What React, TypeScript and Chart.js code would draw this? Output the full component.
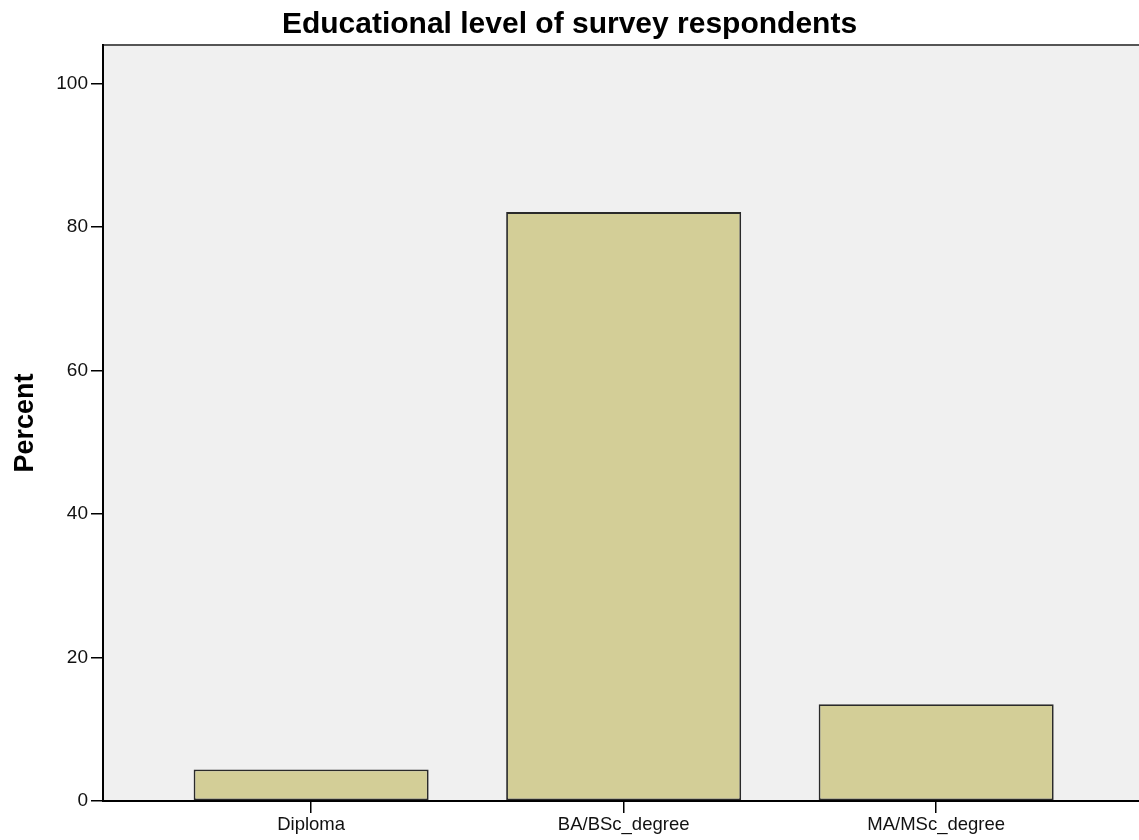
import React, { useEffect, useRef } from "react";
import { Chart, registerables } from "chart.js";

Chart.register(...registerables);

const categories = ["Diploma", "BA/BSc_degree", "MA/MSc_degree"];
const percents = [4.4, 82.1, 13.5];
const yTicks = [0, 20, 40, 60, 80, 100];

const FONT = "'Liberation Sans', Arial, sans-serif";

const panelPlugin = {
  id: "panel",
  beforeDraw(chart: any) {
    const { ctx, chartArea } = chart;
    ctx.save();
    ctx.fillStyle = "#f0f0f0";
    ctx.fillRect(chartArea.left, chartArea.top, chartArea.right - chartArea.left, chartArea.bottom - chartArea.top);
    ctx.strokeStyle = "#555555";
    ctx.lineWidth = 2;
    ctx.beginPath();
    ctx.moveTo(chartArea.left, chartArea.top);
    ctx.lineTo(chartArea.right, chartArea.top);
    ctx.stroke();
    ctx.restore();
  },
};

export default function App() {
  const ref = useRef<HTMLCanvasElement>(null);
  useEffect(() => {
    if (!ref.current) return;
    const chart = new Chart(ref.current, {
      type: "bar",
      data: {
        datasets: [
          {
            label: "Percent",
            data: categories.map((_, i) => ({ x: i, y: percents[i] })),
            backgroundColor: "#d3ce97",
            borderColor: "#2a2a2a",
            borderWidth: 1.8,
            borderSkipped: false,
            barPercentage: 0.752,
            categoryPercentage: 1,
          },
        ],
      },
      options: {
        animation: false,
        responsive: false,
        devicePixelRatio: 1,
        layout: { padding: { left: 0, right: 0, top: 0, bottom: 0 } },
        plugins: {
          legend: { display: false },
          tooltip: { enabled: false },
          title: {
            display: true,
            text: "Educational level of survey respondents",
            color: "#000",
            font: { family: FONT, size: 30, weight: "bold", lineHeight: 1.0 },
            padding: { top: 10, bottom: 5 },
          },
        },
        scales: {
          x: {
            type: "linear",
            offset: false,
            min: -0.666,
            max: 2.649,
            afterBuildTicks: (scale: any) => {
              scale.ticks = categories.map((_, i) => ({ value: i }));
            },
            afterFit: (scale: any) => {
              scale.height = 39;
            },
            ticks: {
              autoSkip: false,
              maxRotation: 0,
              color: "#111",
              padding: 1,
              font: { family: FONT, size: 18.5 },
              callback: (v: any) => categories[v as number] ?? "",
            },
            grid: {
              offset: false,
              drawOnChartArea: false,
              drawTicks: true,
              tickLength: 12,
              color: "#000",
              lineWidth: 1.5,
            },
            border: { display: true, color: "#000", width: 2 },
          },
          y: {
            type: "linear",
            min: 0,
            max: 105.4,
            afterBuildTicks: (scale: any) => {
              scale.ticks = yTicks.map((v) => ({ value: v }));
            },
            afterFit: (scale: any) => {
              scale.width = 103;
            },
            ticks: {
              color: "#111",
              padding: 3,
              font: { family: FONT, size: 19 },
            },
            grid: {
              drawOnChartArea: false,
              drawTicks: true,
              tickLength: 12,
              color: "#000",
              lineWidth: 1.5,
            },
            border: { display: true, color: "#000", width: 2 },
            title: {
              display: true,
              text: "Percent",
              color: "#000",
              font: { family: FONT, size: 27, weight: "bold", lineHeight: 1.2 },
              padding: { top: 9, bottom: 0 },
            },
          },
        },
      } as any,
      plugins: [panelPlugin],
    });
    return () => chart.destroy();
  }, []);
  return (
    <div style={{ position: "fixed", left: 0, top: 0, width: 1139, height: 840, background: "#fff" }}>
      <canvas ref={ref} width={1139} height={840} style={{ display: "block" }} />
    </div>
  );
}
